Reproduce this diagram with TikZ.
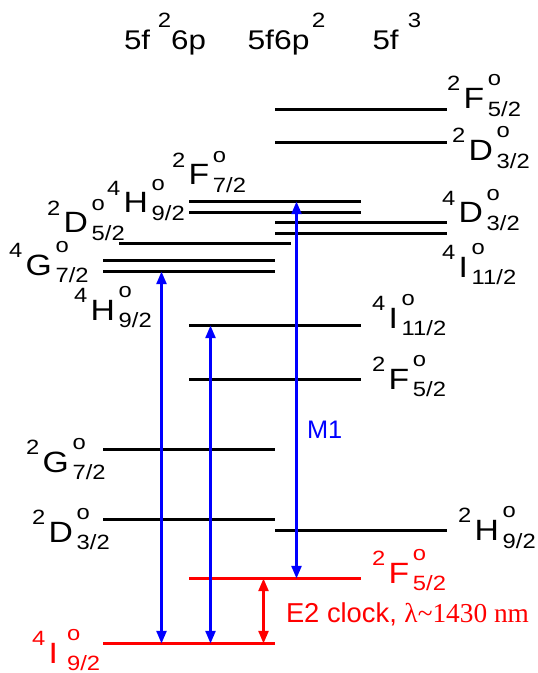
\documentclass[tikz,border=0pt]{standalone}
\usepackage{fontspec}
\usepackage{graphicx}
\setmainfont{Liberation Sans}
\newfontfamily\serifff{Liberation Serif}
\usetikzlibrary{arrows.meta}
\newcommand\scs{\fontsize{15.5pt}{16pt}\selectfont}
\newcommand\mns{\fontsize{22pt}{24pt}\selectfont}
\newcommand\hds{\fontsize{20.25pt}{22pt}\selectfont}
\newcommand\trm[4][0pt]{\scalebox{1.15}[1]{\mns\raisebox{0.6em}{\scs #2}\hspace{2.25pt}#3\hspace{#1}\hspace{2.4pt}\rlap{\raisebox{0.77em}{\scs o}}\raisebox{-0.26em}{\scs #4}}}
\begin{document}
\begin{tikzpicture}[x=0.75pt,y=-0.75pt,
  lvl/.style={line width=1.9pt},
  redlvl/.style={lvl,red},
  lab/.style={inner sep=0pt,outer sep=0pt,anchor=base west},
  tipA/.tip={Triangle[width=7.5pt,length=9.5pt]},
  arr/.style={blue,line width=1.8pt,tipA-tipA},
  redarr/.style={arr,red}]
\useasboundingbox (0,0) rectangle (537,673);
% header
\node[lab] (h1) at (124,49.3) {\scalebox{1.16}[1]{\hds 5f\hspace{5pt}\raisebox{0.8em}{\scs 2}6p}};
\node[lab] (h2) at (247.5,49.3) {\scalebox{1.18}[1]{\hds 5f6p\hspace{1.5pt}\raisebox{0.8em}{\scs 2}}};
\node[lab] (h3) at (372.5,49.3) {\scalebox{1.16}[1]{\hds 5f\hspace{6pt}\raisebox{0.8em}{\scs 3}}};
% levels 5f3 column
\coordinate (cF52L) at (275,109.5);  \coordinate (cF52R) at (447,109.5);
\coordinate (cD32L) at (275,142.5);  \coordinate (cD32R) at (447,142.5);
\coordinate (cD32bL) at (275,222.5); \coordinate (cD32bR) at (447,222.5);
\coordinate (cI112L) at (275,233.5); \coordinate (cI112R) at (447,233.5);
\coordinate (cH92L) at (275,530.5);  \coordinate (cH92R) at (447,530.5);
% levels 5f6p2 column
\coordinate (bH92L) at (189,201.5);  \coordinate (bH92R) at (361,201.5);
\coordinate (bF72L) at (189,212.5);  \coordinate (bF72R) at (361,212.5);
\coordinate (bI112L) at (189,325.5); \coordinate (bI112R) at (361,325.5);
\coordinate (bF52L) at (189,379.5);  \coordinate (bF52R) at (361,379.5);
\coordinate (bF52rL) at (189,578.5); \coordinate (bF52rR) at (361,578.5);
% levels 5f26p column
\coordinate (aD52L) at (119,243.5);  \coordinate (aD52R) at (291,243.5);
\coordinate (aG72uL) at (103,260.5); \coordinate (aG72uR) at (275,260.5);
\coordinate (aH92L) at (103,271.5);  \coordinate (aH92R) at (275,271.5);
\coordinate (aG72L) at (103,449.5);  \coordinate (aG72R) at (275,449.5);
\coordinate (aD32L) at (103,519.5);  \coordinate (aD32R) at (275,519.5);
\coordinate (aI92L) at (103,643.5);  \coordinate (aI92R) at (275,643.5);
\foreach \n in {cF52,cD32,cD32b,cI112,cH92,bH92,bF72,bI112,bF52,aD52,aG72u,aH92,aG72,aD32}
  \draw[lvl] (\n L) -- (\n R);
\draw[redlvl] (bF52rL) -- (bF52rR);
\draw[redlvl] (aI92L) -- (aI92R);
% arrow columns
\coordinate (x1) at (161.5,0);
\coordinate (x2) at (210.5,0);
\coordinate (x3) at (296.5,0);
\coordinate (x4) at (263.5,0);
\draw[arr] (aH92L -| x1) -- (aI92L -| x1);
\draw[arr] (bI112L -| x2) -- (aI92L -| x2);
\draw[arr] (bH92L -| x3) -- (bF52rL -| x3);
\draw[redarr] (bF52rL -| x4) -- (aI92L -| x4);
% labels right column
\node[lab] (l1) at (447,108.5) {\trm{2}{F}{5/2}};
\node[lab] (l2) at (452,160.5) {\trm{2}{D}{3/2}};
\node[lab] (l3) at (442,223) {\trm{4}{D}{3/2}};
\node[lab] (l4) at (442,277) {\trm{4}{I}{11/2}};
\node[lab] (l5) at (458,540.5) {\trm{2}{H}{9/2}};
% labels middle
\node[lab] (l6) at (372,328) {\trm{4}{I}{11/2}};
\node[lab] (l7) at (372,389) {\trm{2}{F}{5/2}};
\node[lab,red] (l8) at (372,583) {\trm{2}{F}{5/2}};
% labels left
\node[lab] (l9) at (26,472) {\trm{2}{G}{7/2}};
\node[lab] (l10) at (32,542) {\trm{2}{D}{3/2}};
\node[lab,red] (l11) at (32,663) {\trm[3.5pt]{4}{I}{9/2}};
\node[lab] (l12) at (9,275) {\trm{4}{G}{7/2}};
\node[lab] (l13) at (47,233) {\trm{2}{D}{5/2}};
\node[lab] (l14) at (107,213) {\trm{4}{H}{9/2}};
\node[lab] (l15) at (172,185) {\trm{2}{F}{7/2}};
\node[lab] (l16) at (74,320) {\trm{4}{H}{9/2}};
% transition labels
\node[lab,blue] (m1) at (307,438) {\fontsize{19pt}{20pt}\selectfont M1};
\node[lab,red] (e2) at (286,622) {\fontsize{20.5pt}{22pt}\selectfont E2 clock, {\serifff λ\char`\~1430 nm}};
\end{tikzpicture}
\end{document}
